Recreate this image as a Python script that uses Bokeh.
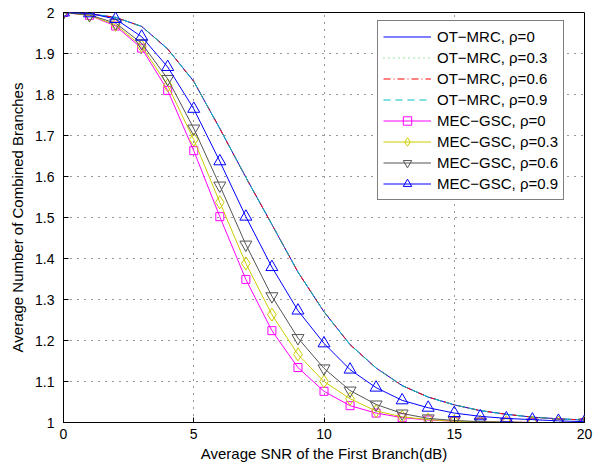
from bokeh.plotting import figure
from bokeh.models import FixedTicker, Range1d, Legend, LegendItem
from bokeh.embed import file_html
from bokeh.resources import INLINE

snr_db = [0, 1, 2, 3, 4, 5, 6, 7, 8, 9, 10, 11, 12, 13, 14, 15, 16, 17, 18, 19, 20]

ot_mrc_rho0 = [2.000, 1.997, 1.988, 1.966, 1.911, 1.832, 1.717, 1.598, 1.483, 1.367, 1.270,
               1.190, 1.133, 1.090, 1.062, 1.043, 1.029, 1.020, 1.013, 1.009, 1.006]
ot_mrc_rho03 = [2.000, 1.997, 1.988, 1.966, 1.911, 1.832, 1.717, 1.598, 1.483, 1.367, 1.270,
                1.190, 1.133, 1.090, 1.062, 1.043, 1.029, 1.020, 1.013, 1.009, 1.006]
ot_mrc_rho06 = [2.000, 1.997, 1.988, 1.966, 1.911, 1.832, 1.717, 1.598, 1.483, 1.367, 1.270,
                1.190, 1.133, 1.090, 1.062, 1.043, 1.029, 1.020, 1.013, 1.009, 1.006]
ot_mrc_rho09 = [2.000, 1.997, 1.988, 1.966, 1.911, 1.832, 1.717, 1.598, 1.483, 1.367, 1.270,
                1.190, 1.133, 1.090, 1.062, 1.043, 1.029, 1.020, 1.013, 1.009, 1.006]

mec_gsc_rho0 = [2.000, 1.993, 1.967, 1.913, 1.810, 1.663, 1.502, 1.349, 1.224, 1.134, 1.076,
                1.041, 1.023, 1.012, 1.006, 1.003, 1.001, 1.001, 1.000, 1.000, 1.000]
mec_gsc_rho03 = [2.000, 1.993, 1.970, 1.918, 1.822, 1.690, 1.537, 1.388, 1.263, 1.166, 1.100,
                 1.058, 1.028, 1.014, 1.007, 1.003, 1.002, 1.001, 1.000, 1.000, 1.000]
mec_gsc_rho06 = [2.000, 1.994, 1.974, 1.925, 1.838, 1.717, 1.578, 1.434, 1.308, 1.206, 1.132,
                 1.078, 1.044, 1.022, 1.010, 1.005, 1.002, 1.001, 1.000, 1.000, 1.000]
mec_gsc_rho09 = [2.000, 1.998, 1.984, 1.941, 1.867, 1.765, 1.637, 1.502, 1.379, 1.273, 1.193,
                 1.129, 1.085, 1.054, 1.036, 1.023, 1.015, 1.010, 1.007, 1.004, 1.002]

x_ticks = [0, 5, 10, 15, 20]
y_ticks = [1.0, 1.1, 1.2, 1.3, 1.4, 1.5, 1.6, 1.7, 1.8, 1.9, 2.0]
y_tick_labels = {1: "1", 2: "2"}

FONT = "Liberation Sans"

p = figure(width=604, height=466, output_backend="svg", toolbar_location=None,
           x_range=Range1d(0, 20), y_range=Range1d(1, 2),
           min_border_left=63, min_border_right=20, min_border_top=12, min_border_bottom=44)
p.background_fill_color = "white"
p.border_fill_color = "white"
p.outline_line_color = "black"
p.outline_line_width = 1

p.xaxis.ticker = FixedTicker(ticks=x_ticks)
p.yaxis.ticker = FixedTicker(ticks=y_ticks)
p.yaxis.major_label_overrides = y_tick_labels
p.xaxis.axis_label = "Average SNR of the First Branch(dB)"
p.yaxis.axis_label = "Average Number of Combined Branches"
for ax in [p.xaxis[0], p.yaxis[0]]:
    ax.major_tick_in = 5
    ax.major_tick_out = 0
    ax.minor_tick_line_color = None
    ax.axis_line_color = "black"
    ax.major_tick_line_color = "black"
    ax.major_label_text_font = FONT
    ax.major_label_text_font_size = "14px"
    ax.major_label_text_color = "black"
    ax.axis_label_text_font = FONT
    ax.axis_label_text_font_size = "15px"
    ax.axis_label_text_font_style = "normal"
    ax.axis_label_text_color = "black"
p.xaxis.major_label_standoff = 6
p.xaxis.axis_label_standoff = 3
p.yaxis.major_label_standoff = 9
p.yaxis.axis_label_standoff = 6

p.xgrid.ticker = FixedTicker(ticks=x_ticks)
p.ygrid.ticker = FixedTicker(ticks=y_ticks)
for g in [p.xgrid[0], p.ygrid[0]]:
    g.grid_line_color = "#333333"
    g.grid_line_dash = "1 6"
    g.grid_line_width = 1

items = []
ot_specs = [
    (ot_mrc_rho0, "#0000FF", "solid", "OT\u2212MRC, \u03c1=0"),
    (ot_mrc_rho03, "#33CC33", "1 4", "OT\u2212MRC, \u03c1=0.3"),
    (ot_mrc_rho06, "#FF0000", "7 3 1 3", "OT\u2212MRC, \u03c1=0.6"),
    (ot_mrc_rho09, "#00BFBF", "7 5", "OT\u2212MRC, \u03c1=0.9"),
]
for ys, col, dash, lab in ot_specs:
    r = p.line(snr_db, ys, line_color=col, line_dash=dash, line_width=1)
    items.append(LegendItem(label=lab, renderers=[r]))

mec_specs = [
    (mec_gsc_rho0, "#FF00FF", "square", 8, "MEC\u2212GSC, \u03c1=0"),
    (mec_gsc_rho03, "#CCCC00", "diamond", 13, "MEC\u2212GSC, \u03c1=0.3"),
    (mec_gsc_rho06, "#555555", "inverted_triangle", 12, "MEC\u2212GSC, \u03c1=0.6"),
    (mec_gsc_rho09, "#0000FF", "triangle", 12, "MEC\u2212GSC, \u03c1=0.9"),
]
for ys, col, mk, sz, lab in mec_specs:
    rl = p.line(snr_db, ys, line_color=col, line_width=1)
    rs = p.scatter(snr_db, ys, marker=mk, size=sz, line_color=col, fill_color=None, line_width=1)
    items.append(LegendItem(label=lab, renderers=[rl, rs]))

legend = Legend(items=items, location=(314, 222))
legend.label_text_font = FONT
legend.label_text_font_size = "15px"
legend.label_text_color = "black"
legend.label_height = 21
legend.glyph_height = 21
legend.glyph_width = 48
legend.label_standoff = 6
legend.spacing = 0
legend.padding = 5
legend.margin = 0
legend.border_line_color = "black"
legend.border_line_width = 1
legend.background_fill_color = "white"
legend.background_fill_alpha = 1
p.add_layout(legend, "center")

open("out.html", "w").write(file_html(p, INLINE))
